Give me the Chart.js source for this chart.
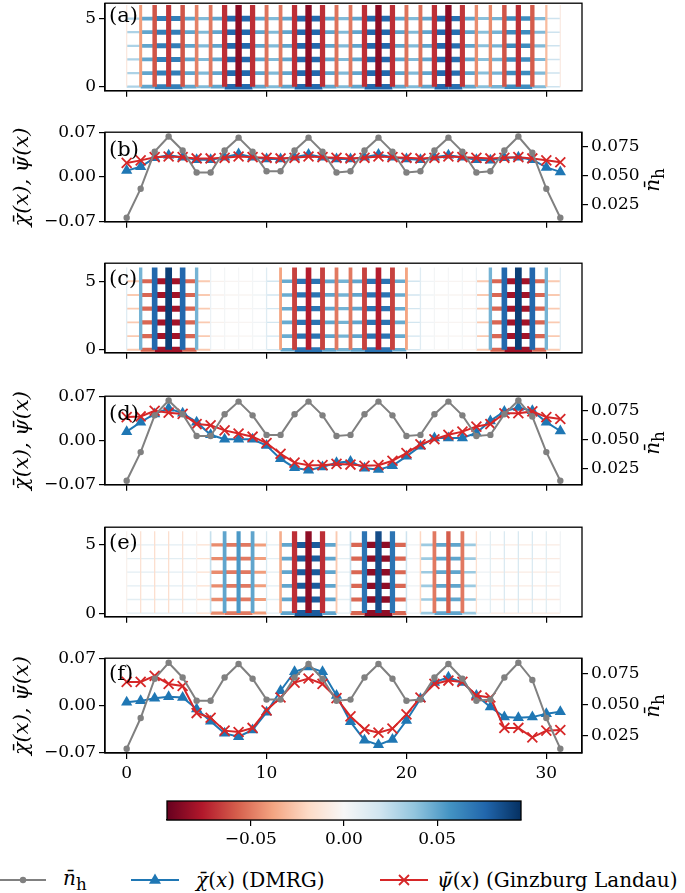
<!DOCTYPE html>
<html>
<head>
<meta charset="utf-8">
<title>Pair-field profiles on a 32 x 6 cylinder</title>
<script src="https://cdn.jsdelivr.net/npm/chart.js@4.4.1/dist/chart.umd.min.js"></script>
<style>
  html, body { margin: 0; padding: 0; background: #fff; }
  body { position: relative; width: 685px; height: 893px; overflow: hidden; font-family: 'DejaVu Serif', serif; color: #000; }
  canvas { position: absolute; left: 0; }
  .tag { position: absolute; left: 109px; font-size: 21px; line-height: 1; }
  .nh-title { position: absolute; left: 639px; width: 30px; text-align: center; font-size: 20px; transform: rotate(-90deg); white-space: nowrap; }
  #legend { position: absolute; left: 0; top: 865px; width: 685px; height: 30px; font-size: 20px; }
  #legend .item { position: absolute; top: 0; height: 30px; display: flex; align-items: center; white-space: nowrap; }
  #legend svg { display: block; }
</style>
</head>
<body>
<canvas id="panelA" width="685" height="10"></canvas>
<canvas id="panelB" width="685" height="10"></canvas>
<canvas id="panelC" width="685" height="10"></canvas>
<canvas id="panelD" width="685" height="10"></canvas>
<canvas id="panelE" width="685" height="10"></canvas>
<canvas id="panelF" width="685" height="10"></canvas>
<canvas id="cbar" width="685" height="70"></canvas>

<div class="tag" style="top:5px">(a)</div>
<div class="tag" style="top:139px">(b)</div>
<div class="tag" style="top:268px">(c)</div>
<div class="tag" style="top:403px">(d)</div>
<div class="tag" style="top:532px">(e)</div>
<div class="tag" style="top:663px">(f)</div>

<div class="nh-title" style="top:166px"><i>n̄</i><sub>h</sub></div>
<div class="nh-title" style="top:429px"><i>n̄</i><sub>h</sub></div>
<div class="nh-title" style="top:692px"><i>n̄</i><sub>h</sub></div>

<div id="legend">
  <div class="item" style="left:0">
    <svg width="46" height="20"><line x1="0" y1="10" x2="46" y2="10" stroke="#808080" stroke-width="2"/><circle cx="23" cy="10" r="3.2" fill="#808080"/></svg>
    <span style="margin-left:17px"><i>n̄</i><sub>h</sub></span>
  </div>
  <div class="item" style="left:131px">
    <svg width="48" height="20"><line x1="0" y1="10" x2="48" y2="10" stroke="#1f77b4" stroke-width="2"/><polygon points="24,3.5 30,13.8 18,13.8" fill="#1f77b4"/></svg>
    <span style="margin-left:17px"><i>χ̄</i>(<i>x</i>) (DMRG)</span>
  </div>
  <div class="item" style="left:380px">
    <svg width="48" height="20"><line x1="0" y1="10" x2="48" y2="10" stroke="#d62728" stroke-width="2"/><path d="M19,5 L29,15 M29,5 L19,15" stroke="#d62728" stroke-width="1.8"/></svg>
    <span style="margin-left:9px"><i>ψ̄</i>(<i>x</i>) (Ginzburg Landau)</span>
  </div>
</div>

<script>
// ---------- data ----------
const xSites = [0, 1, 2, 3, 4, 5, 6, 7, 8, 9, 10, 11, 12, 13, 14, 15,
                16, 17, 18, 19, 20, 21, 22, 23, 24, 25, 26, 27, 28, 29, 30, 31];
const rows = [0, 1, 2, 3, 4, 5];

// bond pair fields: vertical bonds per column, horizontal bonds x -> x+1
const vertA = [-0.010, -0.040, -0.060, -0.068, -0.060, -0.048, -0.050, -0.070, -0.085, -0.070, -0.052, -0.050, -0.070, -0.085, -0.070, -0.052,
               -0.050, -0.070, -0.085, -0.070, -0.052, -0.052, -0.070, -0.085, -0.068, -0.045, -0.045, -0.060, -0.070, -0.058, -0.030, -0.008];
const horA = [0.030, 0.050, 0.066, 0.066, 0.050, 0.042, 0.050, 0.075, 0.075, 0.050, 0.042, 0.050, 0.075, 0.075, 0.050, 0.042,
              0.050, 0.075, 0.075, 0.050, 0.042, 0.050, 0.075, 0.072, 0.050, 0.040, 0.045, 0.060, 0.060, 0.042, 0.020];

const vertC = [0.012, 0.045, 0.075, 0.090, 0.075, 0.045, 0.006, 0.002, 0.001, 0.002, 0.012, -0.038, -0.065, -0.075, -0.065, -0.050,
               -0.050, -0.065, -0.075, -0.065, -0.038, 0.012, 0.002, 0.001, 0.002, 0.006, 0.045, 0.075, 0.090, 0.075, 0.045, 0.012];
const horC = [-0.025, -0.055, -0.080, -0.080, -0.055, -0.025, -0.004, -0.002, -0.002, 0.003, 0.018, 0.048, 0.070, 0.070, 0.050, 0.045,
              0.050, 0.070, 0.070, 0.048, 0.018, 0.003, -0.002, -0.002, -0.004, -0.025, -0.055, -0.080, -0.080, -0.055, -0.025];

const vertE = [-0.004, -0.014, -0.016, -0.016, -0.014, -0.004, 0.022, 0.050, 0.055, 0.050, 0.015, -0.035, -0.070, -0.085, -0.070, -0.025,
               0.022, 0.070, 0.085, 0.070, 0.020, -0.020, -0.050, -0.058, -0.050, -0.015, 0.010, 0.014, 0.015, 0.014, 0.010, 0.003];
const horE = [0.010, 0.010, 0.010, 0.010, 0.010, -0.015, -0.045, -0.050, -0.050, -0.040, 0.010, 0.050, 0.080, 0.080, 0.050, 0.010,
              -0.055, -0.085, -0.085, -0.055, 0.005, 0.035, 0.050, 0.050, 0.035, 0.005, -0.008, -0.008, -0.008, -0.008, -0.008];

// hole density (right axis)
const nH = [0.014, 0.039, 0.071, 0.084, 0.072, 0.053, 0.053, 0.072, 0.083, 0.071, 0.054, 0.054, 0.072, 0.083, 0.071, 0.053,
            0.054, 0.072, 0.083, 0.071, 0.053, 0.054, 0.072, 0.083, 0.071, 0.053, 0.054, 0.072, 0.084, 0.070, 0.039, 0.014];

const chiB = [0.010, 0.016, 0.030, 0.034, 0.031, 0.027, 0.027, 0.031, 0.036, 0.031, 0.028, 0.028, 0.031, 0.035, 0.031, 0.028,
              0.028, 0.031, 0.035, 0.031, 0.028, 0.027, 0.031, 0.034, 0.031, 0.027, 0.026, 0.030, 0.031, 0.027, 0.015, 0.008];
const psiB = [0.022, 0.026, 0.031, 0.032, 0.031, 0.029, 0.029, 0.030, 0.032, 0.031, 0.030, 0.029, 0.030, 0.032, 0.031, 0.030,
              0.029, 0.030, 0.032, 0.031, 0.030, 0.029, 0.030, 0.032, 0.031, 0.030, 0.029, 0.030, 0.031, 0.029, 0.026, 0.023];

const chiD = [0.014, 0.029, 0.042, 0.051, 0.043, 0.029, 0.009, 0.002, 0.002, 0.002, -0.008, -0.029, -0.043, -0.047, -0.042, -0.035,
              -0.033, -0.044, -0.046, -0.040, -0.025, -0.009, 0.004, 0.004, 0.004, 0.012, 0.031, 0.046, 0.052, 0.047, 0.029, 0.015];
const psiD = [0.037, 0.038, 0.047, 0.044, 0.042, 0.026, 0.024, 0.016, 0.011, 0.006, -0.004, -0.021, -0.035, -0.039, -0.039, -0.037,
              -0.038, -0.040, -0.039, -0.032, -0.020, -0.006, 0.002, 0.009, 0.014, 0.022, 0.026, 0.043, 0.043, 0.046, 0.037, 0.034];

const chiF = [0.005, 0.007, 0.011, 0.013, 0.012, -0.005, -0.023, -0.041, -0.046, -0.036, -0.010, 0.022, 0.050, 0.057, 0.050, 0.015,
              -0.024, -0.051, -0.058, -0.050, -0.022, 0.010, 0.034, 0.042, 0.034, 0.015, -0.002, -0.017, -0.018, -0.017, -0.012, -0.009];
const psiF = [0.035, 0.035, 0.044, 0.032, 0.029, -0.011, -0.018, -0.037, -0.039, -0.033, -0.007, 0.012, 0.034, 0.040, 0.032, 0.011,
              -0.016, -0.035, -0.040, -0.034, -0.013, 0.012, 0.032, 0.037, 0.035, 0.015, 0.012, -0.033, -0.033, -0.047, -0.037, -0.036];

const xTicks = [0, 10, 20, 30];
const rowTicks = [0, 5];
const leftTicks = [-0.07, 0, 0.07];
const rightTicks = [0.025, 0.05, 0.075];
const cbarTicks = [-0.05, 0, 0.05];

// ---------- styling helpers ----------
const FONT = { family: "'DejaVu Serif', serif", size: 17 };
const PAD_TOP = 12;
const LEFT_W = 105, RIGHT_W = 103;
const VLIM = 0.095;
const RDBU = ['#67001f', '#b2182b', '#d6604d', '#f4a582', '#fddbc7', '#f7f7f7',
              '#d1e5f0', '#92c5de', '#4393c3', '#2166ac', '#053061'];

function hexRgb(h) {
    return [1, 3, 5].map(i => parseInt(h.slice(i, i + 2), 16));
}

function rdbu(v) {
    let t = (v + VLIM) / (2 * VLIM);
    t = Math.min(1, Math.max(0, t)) * 10;
    const i = Math.min(9, Math.floor(t));
    const f = t - i;
    const a = hexRgb(RDBU[i]), b = hexRgb(RDBU[i + 1]);
    const c = a.map((x, k) => Math.round(x + (b[k] - x) * f));
    return `rgb(${c[0]},${c[1]},${c[2]})`;
}

function bondWidth(v) {
    return Math.max(1.3, Math.abs(v) * 75);
}

function minus(v, digits) {
    return v.toFixed(digits).replace('-', '\u2212');
}

function fixedTicks(values) {
    return scale => { scale.ticks = values.map(v => ({ value: v })); };
}

const framePlugin = {
    id: 'frame',
    afterDraw(chart) {
        const { ctx, chartArea: a } = chart;
        ctx.save();
        ctx.strokeStyle = '#000';
        ctx.lineWidth = 1.3;
        ctx.strokeRect(a.left, a.top, a.right - a.left, a.bottom - a.top);
        ctx.restore();
    }
};

function placeCanvas(id, top, bottom, xHeight) {
    const cv = document.getElementById(id);
    cv.height = (bottom - top) + PAD_TOP + xHeight;
    cv.style.top = (top - PAD_TOP) + 'px';
    return cv;
}

function xScale(showLabels, height) {
    return {
        type: 'linear',
        min: -1.55,
        max: 32.55,
        afterBuildTicks: fixedTicks(xTicks),
        afterFit: s => { s.height = height; },
        grid: { drawOnChartArea: false, tickLength: 6, color: '#000', lineWidth: 1.2 },
        border: { color: '#000', width: 1.3 },
        ticks: { display: showLabels, autoSkip: false, maxRotation: 0, font: FONT, color: '#000', padding: 4,
                 callback: v => String(v) }
    };
}

// ---------- lattice panels (a), (c), (e) ----------
function latticePanel(id, top, bottom, vert, hor, yMin, yMax) {
    const cv = placeCanvas(id, top, bottom, 8);
    const datasets = [];
    // vertical bonds (periodic in y), drawn on top
    vert.forEach((v, i) => {
        datasets.push({
            data: [{ x: xSites[i], y: rows[0] }, { x: xSites[i], y: rows.length }],
            borderColor: rdbu(v),
            borderWidth: bondWidth(v),
            borderCapStyle: 'butt',
            pointRadius: 0
        });
    });
    // horizontal bonds, one polyline per row, each segment coloured by its bond
    rows.forEach(r => {
        datasets.push({
            data: xSites.map(x => ({ x: x, y: r })),
            borderColor: rdbu(hor[0]),
            borderWidth: 2,
            borderCapStyle: 'butt',
            pointRadius: 0,
            segment: {
                borderColor: c => rdbu(hor[c.p0DataIndex]),
                borderWidth: c => bondWidth(hor[c.p0DataIndex])
            }
        });
    });
    new Chart(cv, {
        type: 'line',
        data: { datasets: datasets },
        options: {
            responsive: false,
            animation: false,
            events: [],
            layout: { padding: { top: PAD_TOP, right: RIGHT_W, left: 0, bottom: 0 } },
            plugins: { legend: { display: false }, tooltip: { enabled: false } },
            scales: {
                x: xScale(false, 8),
                y: {
                    type: 'linear',
                    min: yMin,
                    max: yMax,
                    afterBuildTicks: fixedTicks(rowTicks),
                    afterFit: s => { s.width = LEFT_W; },
                    grid: { drawOnChartArea: false, tickLength: 6, color: '#000', lineWidth: 1.2 },
                    border: { color: '#000', width: 1.3 },
                    ticks: { font: FONT, color: '#000', padding: 3, callback: v => String(v) }
                }
            }
        },
        plugins: [framePlugin]
    });
}

// ---------- profile panels (b), (d), (f) ----------
function profilePanel(id, top, bottom, chi, psi, showX) {
    const xh = showX ? 32 : 8;
    const cv = placeCanvas(id, top, bottom, xh);
    const pts = arr => xSites.map((x, i) => ({ x: x, y: arr[i] }));
    new Chart(cv, {
        type: 'line',
        data: {
            datasets: [
                {
                    label: 'n_h',
                    data: pts(nH),
                    yAxisID: 'y1',
                    borderColor: '#808080',
                    backgroundColor: '#808080',
                    borderWidth: 2,
                    pointStyle: 'circle',
                    pointRadius: 3.2,
                    pointBorderWidth: 0,
                    tension: 0
                },
                {
                    label: 'psi',
                    data: pts(psi),
                    yAxisID: 'y',
                    borderColor: '#d62728',
                    backgroundColor: '#d62728',
                    borderWidth: 2,
                    pointStyle: 'crossRot',
                    pointRadius: 7,
                    pointBorderWidth: 1.8,
                    tension: 0
                },
                {
                    label: 'chi',
                    data: pts(chi),
                    yAxisID: 'y',
                    borderColor: '#1f77b4',
                    backgroundColor: '#1f77b4',
                    borderWidth: 2,
                    pointStyle: 'triangle',
                    pointRadius: 6.5,
                    pointBorderWidth: 0,
                    tension: 0
                }
            ]
        },
        options: {
            responsive: false,
            animation: false,
            events: [],
            layout: { padding: { top: PAD_TOP, right: 0, left: 0, bottom: 0 } },
            plugins: { legend: { display: false }, tooltip: { enabled: false } },
            scales: {
                x: xScale(showX, xh),
                y: {
                    type: 'linear',
                    position: 'left',
                    min: -0.07,
                    max: 0.07,
                    afterBuildTicks: fixedTicks(leftTicks),
                    afterFit: s => { s.width = LEFT_W; },
                    grid: { drawOnChartArea: false, tickLength: 6, color: '#000', lineWidth: 1.2 },
                    border: { color: '#000', width: 1.3 },
                    ticks: { font: FONT, color: '#000', padding: 3, callback: v => minus(v, 2) },
                    title: {
                        display: true,
                        text: 'χ̄(x), ψ̄(x)',
                        font: { family: "'DejaVu Serif', serif", size: 21, style: 'italic' },
                        color: '#000',
                        padding: { top: 10, bottom: 0 }
                    }
                },
                y1: {
                    type: 'linear',
                    position: 'right',
                    min: 0.0105,
                    max: 0.0877,
                    afterBuildTicks: fixedTicks(rightTicks),
                    afterFit: s => { s.width = RIGHT_W; },
                    grid: { drawOnChartArea: false, tickLength: 6, color: '#000', lineWidth: 1.2 },
                    border: { color: '#000', width: 1.3 },
                    ticks: { font: FONT, color: '#000', padding: 3, callback: v => minus(v, 3) }
                }
            }
        },
        plugins: [framePlugin]
    });
}

// ---------- colour bar ----------
function colorBar() {
    const cv = document.getElementById('cbar');
    const top = 801, bottom = 820, left = 167, right = 521;
    cv.height = (bottom - top) + 10 + 34;
    cv.style.top = (top - 10) + 'px';
    const gradientPlugin = {
        id: 'gradient',
        beforeDatasetsDraw(chart) {
            const { ctx, chartArea: a } = chart;
            const g = ctx.createLinearGradient(a.left, 0, a.right, 0);
            RDBU.forEach((c, i) => g.addColorStop(i / (RDBU.length - 1), c));
            ctx.save();
            ctx.fillStyle = g;
            ctx.fillRect(a.left, a.top, a.right - a.left, a.bottom - a.top);
            ctx.restore();
        }
    };
    new Chart(cv, {
        type: 'scatter',
        data: { datasets: [] },
        options: {
            responsive: false,
            animation: false,
            events: [],
            layout: { padding: { top: 10, left: left, right: 685 - right, bottom: 0 } },
            plugins: { legend: { display: false }, tooltip: { enabled: false } },
            scales: {
                x: {
                    type: 'linear',
                    min: -VLIM,
                    max: VLIM,
                    afterBuildTicks: fixedTicks(cbarTicks),
                    afterFit: s => { s.height = 34; },
                    grid: { drawOnChartArea: false, tickLength: 6, color: '#000', lineWidth: 1.2 },
                    border: { color: '#000', width: 1.3 },
                    ticks: { font: FONT, color: '#000', padding: 3, maxRotation: 0, callback: v => minus(v, 2) }
                },
                y: { display: false, min: 0, max: 1 }
            }
        },
        plugins: [gradientPlugin, framePlugin]
    });
}

latticePanel('panelA', 2, 96, vertA, horA, -0.3, 6.13);
profilePanel('panelB', 131, 227, chiB, psiB, false);
latticePanel('panelC', 262, 358, vertC, horC, -0.22, 6.32);
profilePanel('panelD', 395, 490, chiD, psiD, false);
latticePanel('panelE', 526, 622, vertE, horE, -0.27, 6.3);
profilePanel('panelF', 657, 753, chiF, psiF, true);
colorBar();
</script>
</body>
</html>
